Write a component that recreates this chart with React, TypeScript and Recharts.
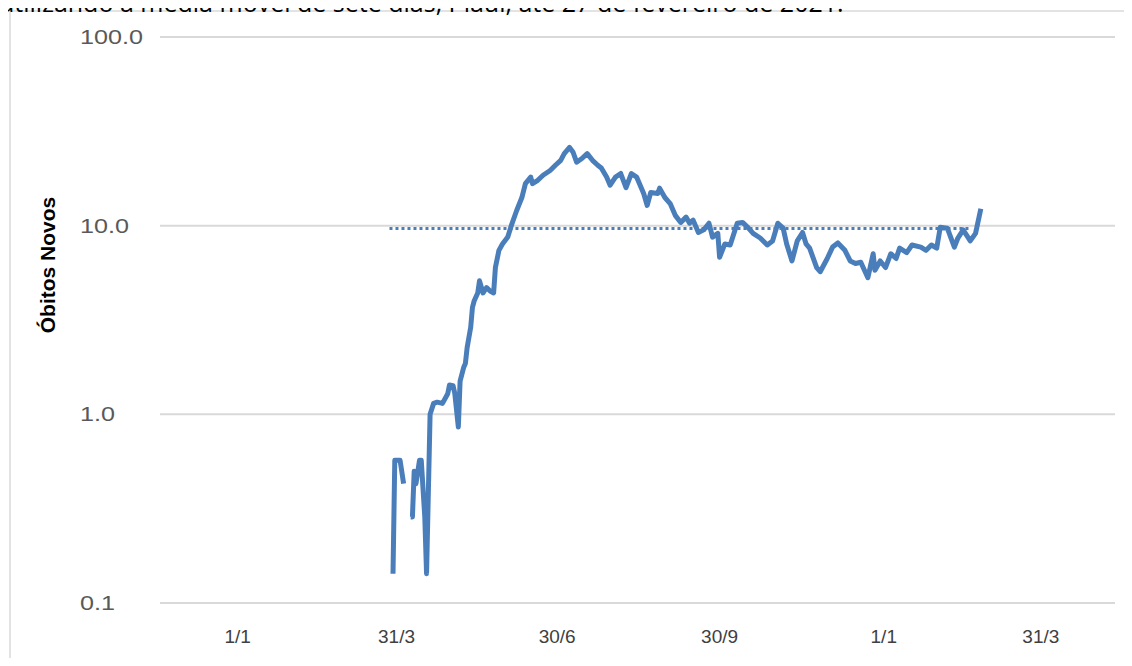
import { LineChart, Line, XAxis, YAxis, CartesianGrid } from "recharts"

// dias contados a partir de 1/1/2020
const dias = [
    88, 89, 92, 94, 95, 98, 99, 100, 101, 103, 104, 106, 107, 109, 111, 113, 116, 119, 120, 122,
    123, 125, 126, 128, 129, 130, 132, 133, 134, 136, 137, 139, 141, 143, 145, 146, 148, 150, 153, 155,
    158, 161, 163, 166, 167, 170, 173, 177, 180, 183, 185, 188, 190, 192, 195, 198, 201, 204, 206, 209,
    211, 214, 217, 220, 223, 226, 230, 232, 234, 238, 239, 242, 245, 248, 251, 254, 256, 258, 261, 264,
    267, 269, 272, 273, 276, 279, 283, 286, 289, 292, 296, 300, 303, 306, 309, 311, 314, 317, 320, 322,
    324, 328, 330, 334, 337, 340, 344, 347, 350, 353, 357, 360, 361, 364, 367, 370, 373, 375, 379, 382,
    387, 390, 393, 396, 398, 402, 406, 408, 411, 415, 418, 421
]

// média móvel de sete dias
const obitos: (number | null)[] = [
    0.143, 0.571, 0.571, 0.429, null, 0.286, 0.286, 0.5, 0.429, 0.571, 0.571, 0.286, 0.143, 1.0, 1.143, 1.16, 1.143, 1.286, 1.43, 1.42,
    1.29, 0.857, 1.5, 1.77, 1.86, 2.26, 2.89, 3.69, 4.0, 4.4, 5.1, 4.4, 4.7, 4.5, 4.4, 6.0, 7.4, 8.0, 8.7, 10.0,
    12.0, 14.1, 16.7, 18.1, 16.7, 17.4, 18.5, 19.6, 20.9, 22.2, 24.1, 26.0, 24.5, 21.7, 22.7, 24.1, 22.2, 20.9, 20.2, 18.1,
    16.4, 18.1, 18.9, 15.9, 18.9, 18.1, 14.8, 12.8, 15.0, 14.8, 15.8, 14.1, 13.1, 11.3, 10.4, 11.1, 10.3, 10.7, 9.2, 9.5,
    10.3, 8.7, 9.1, 6.8, 8.0, 7.9, 10.3, 10.4, 9.8, 9.1, 8.6, 7.9, 8.3, 10.3, 9.7, 8.0, 6.5, 8.3, 9.2, 8.0,
    7.6, 6.0, 5.7, 6.7, 7.7, 8.1, 7.4, 6.5, 6.3, 6.4, 5.3, 7.1, 5.8, 6.5, 6.0, 7.1, 6.7, 7.6, 7.2, 7.9,
    7.7, 7.4, 7.9, 7.6, 9.8, 9.7, 7.7, 8.6, 9.5, 8.3, 9.1, 12.3
]

const mediaDias = [86, 415]
const mediaValores = [9.67, 9.67]

const ticksX = [0, 90, 181, 273, 366, 455]
const rotulosX = ["1/1", "31/3", "30/6", "30/9", "1/1", "31/3"]
const ticksY = [0.1, 1, 10, 100]

const titulo = "utilizando a média móvel de sete dias, Piauí, até 27 de fevereiro de 2021."

const dados = dias.map((d, i) => ({ dia: d, obitos: obitos[i] }))
const dadosMedia = mediaDias.map((d, i) => ({ dia: d, media: mediaValores[i] }))

const azul = "#4a7ebb"

function TickY(props: any) {
    const { y, payload } = props
    return (
        <text
            x={0}
            y={0}
            transform={`translate(80, ${y + 7}) scale(1.26, 1)`}
            fontFamily="Liberation Sans, Arial, sans-serif"
            fontSize={20}
            fill="#595959"
        >
            {payload.value.toFixed(1)}
        </text>
    )
}

function TickX(props: any) {
    const { x, payload, index } = props
    return (
        <text
            x={x}
            y={643}
            textAnchor="middle"
            fontFamily="Liberation Sans, Arial, sans-serif"
            fontSize={19}
            fill="#404040"
        >
            {rotulosX[index] ?? payload.value}
        </text>
    )
}

export default function App() {
    return (
        <div style={{ position: "relative", margin: -8, width: 1132, height: 666, overflow: "hidden", background: "#fff" }}>
            {/* moldura do gráfico */}
            <div
                style={{
                    position: "absolute",
                    left: 9,
                    top: 10,
                    width: 1200,
                    height: 800,
                    border: "2px solid #e3e3e3"
                }}
            />
            {/* título cortado no topo */}
            <svg width={1132} height={24} style={{ position: "absolute", left: 0, top: 0 }}>
                <text x={-1} y={12} fontFamily="Open Sans, sans-serif" fontSize={25} fill="#000">
                    {titulo}
                </text>
            </svg>
            <div style={{ position: "absolute", left: 0, top: 0 }}>
                <LineChart width={1132} height={666} margin={{ top: 37, right: 17, bottom: 0, left: 0 }}>
                    <CartesianGrid vertical={false} stroke="#d9d9d9" strokeWidth={2} />
                    <XAxis
                        dataKey="dia"
                        type="number"
                        domain={[-44, 497]}
                        ticks={ticksX}
                        tick={<TickX />}
                        tickLine={false}
                        axisLine={false}
                        height={63}
                        allowDataOverflow
                    />
                    <YAxis
                        scale="log"
                        domain={[0.1, 100]}
                        ticks={ticksY}
                        tick={<TickY />}
                        tickLine={false}
                        axisLine={false}
                        width={160}
                        allowDataOverflow
                        label={{
                            content: () => (
                                <text
                                    transform="translate(55, 265) rotate(-90)"
                                    textAnchor="middle"
                                    fontFamily="Liberation Sans, Arial, sans-serif"
                                    fontWeight="bold"
                                    fontSize={21}
                                    fill="#000"
                                >
                                    Óbitos Novos
                                </text>
                            )
                        }}
                    />
                    <Line
                        data={dadosMedia}
                        dataKey="media"
                        type="linear"
                        stroke={azul}
                        strokeWidth={3}
                        strokeDasharray="3 3"
                        dot={false}
                        isAnimationActive={false}
                    />
                    <Line
                        data={dados}
                        dataKey="obitos"
                        type="linear"
                        stroke={azul}
                        strokeWidth={5}
                        strokeLinejoin="round"
                        dot={false}
                        isAnimationActive={false}
                    />
                </LineChart>
            </div>
        </div>
    )
}
